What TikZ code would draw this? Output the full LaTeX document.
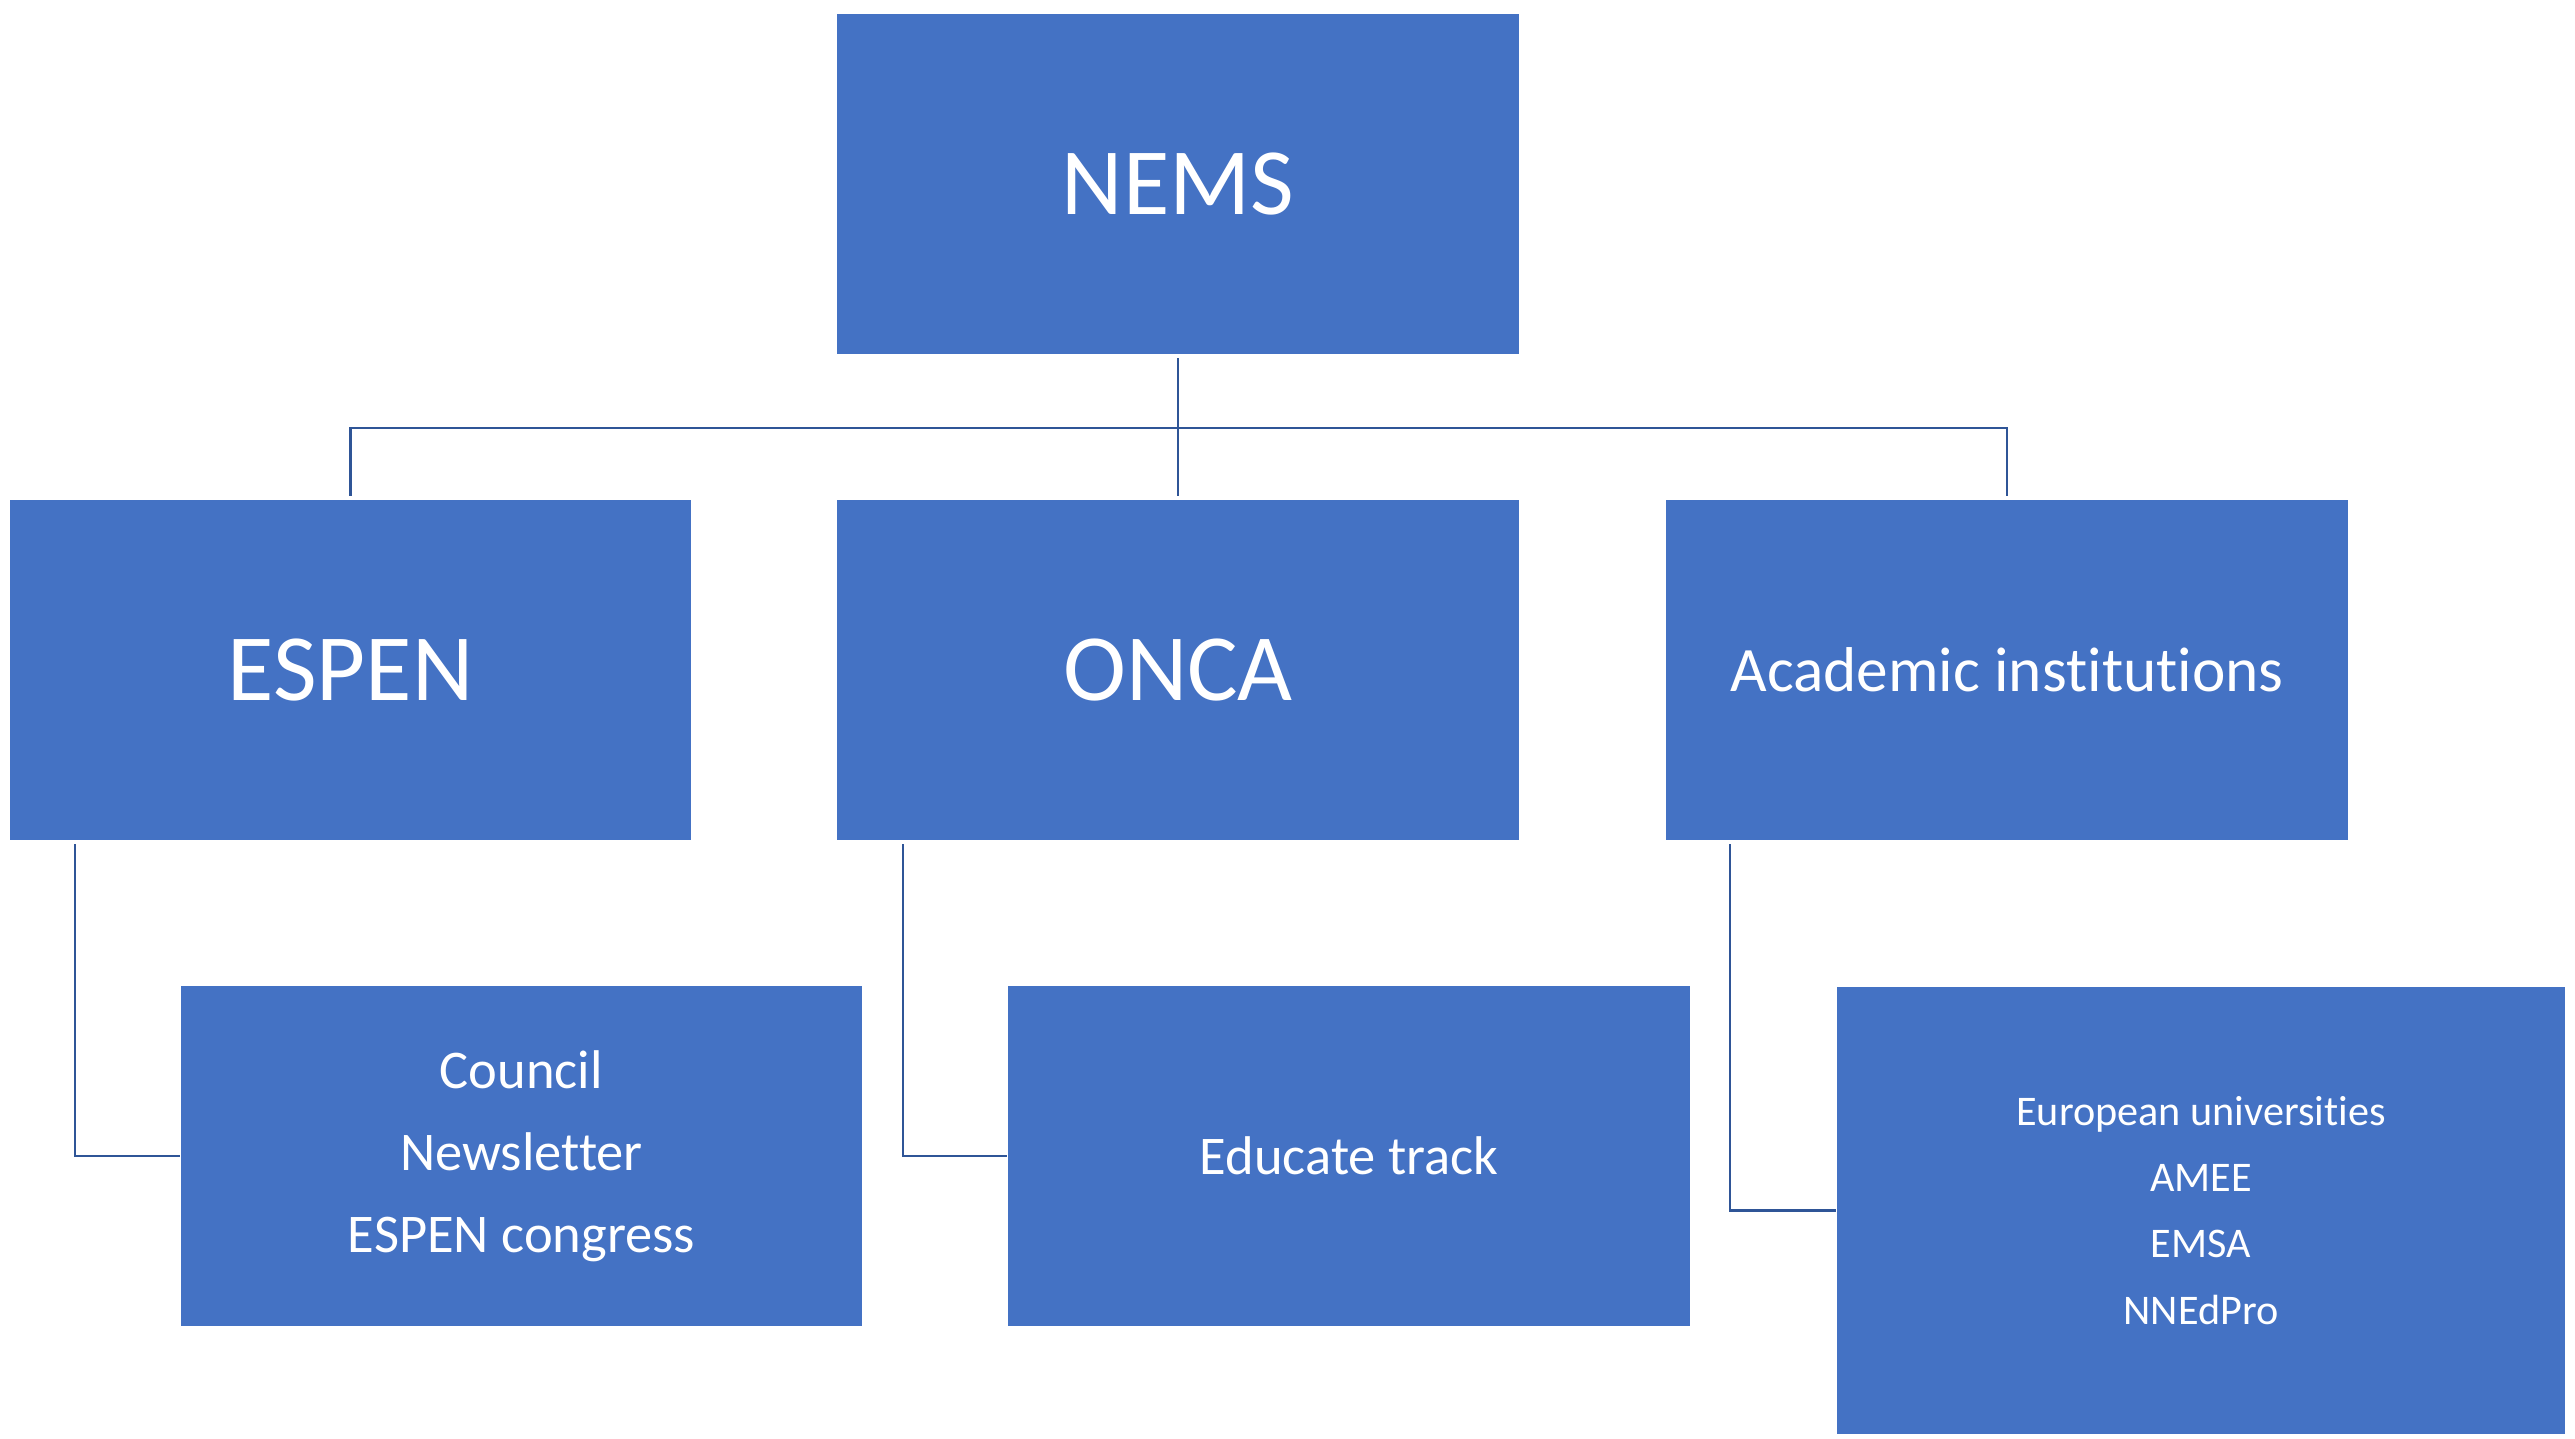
\documentclass[tikz,border=0pt]{standalone}
\usepackage{fontspec}
\setmainfont{Carlito}[RawFeature={-liga;-clig;-calt;-dlig}]
\definecolor{boxblue}{HTML}{4472C4}
\definecolor{linkblue}{HTML}{2F5597}
\tikzset{
  orgbox/.style={rectangle, fill=boxblue, draw=white, line width=0.3pt,
    text=white, align=center, inner sep=0pt,
    minimum width=6.82cm, minimum height=3.40cm},
  link/.style={draw=linkblue, line width=0.6pt}
}
\newcommand{\placeboxes}{
    \coordinate (c0) at (1178,184);
    \coordinate (c1) at (350.5,670);
    \coordinate (c2) at (1178,670);
    \coordinate (c3) at (2007,670);

    \coordinate (c4) at (521.5,1156);
    \coordinate (c5) at (1349,1156);
    \coordinate (c6) at (2201,1210.5);

    \coordinate (bar) at (1178,428);
}
\begin{document}
\begin{tikzpicture}[x=0.01cm,y=-0.01cm]
    \useasboundingbox (0,0) rectangle (2575,1438);
    \placeboxes;

    \node[orgbox, font=\fontsize{27}{32}\selectfont] (nems) at (c0) {NEMS};
    \node[orgbox, font=\fontsize{27}{32}\selectfont] (espen) at (c1) {ESPEN};
    \node[orgbox, font=\fontsize{27}{32}\selectfont] (onca) at (c2) {ONCA};
    \node[orgbox, font=\fontsize{18}{22}\selectfont] (acad) at (c3) {Academic institutions};

    \node[orgbox, font=\fontsize{15.5}{23.3}\selectfont] (council) at (c4)
        {Council\\Newsletter\\ESPEN congress};
    \node[orgbox, font=\fontsize{15.5}{23.3}\selectfont] (educate) at (c5) {Educate track};
    \node[orgbox, font=\fontsize{12}{18.8}\selectfont, minimum width=7.29cm,
        minimum height=4.47cm] (europe) at (c6)
        {European universities\\AMEE\\EMSA\\NNEdPro};

    % top level tree
    \draw[link, shorten <=1pt, shorten >=1pt] (nems.south) -- (onca.north);
    \draw[link, shorten <=1pt, shorten >=1pt] (espen.north) |- (bar) -| (acad.north);

    % children
    \draw[link, shorten <=1pt] ([xshift=0.66cm]espen.south west) |- (council.west);
    \draw[link, shorten <=1pt] ([xshift=0.67cm]onca.south west) |- (educate.west);
    \draw[link, shorten <=1pt] ([xshift=0.65cm]acad.south west) |- (europe.west);
\end{tikzpicture}
\end{document}
